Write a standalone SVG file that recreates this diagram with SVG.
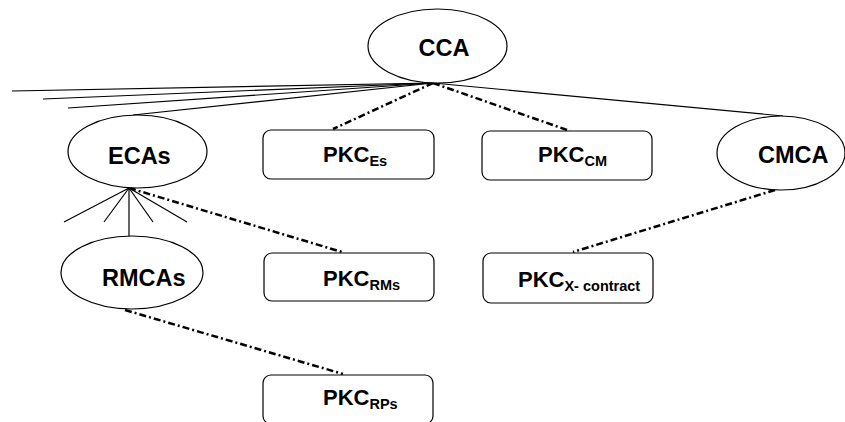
<svg xmlns="http://www.w3.org/2000/svg" width="845" height="422" viewBox="0 0 845 422">
<style>
.n{fill:#fff;stroke:#000;stroke-width:1.2}
.t{font-family:"Liberation Sans",Arial,sans-serif;font-weight:bold;font-size:23.5px;fill:#000}
.p{font-family:"Liberation Sans",Arial,sans-serif;font-weight:bold;font-size:22px;fill:#000}
.s{font-size:14.5px}
.solid{stroke:#000;stroke-width:1.2;fill:none}
.dd{stroke:#000;stroke-width:2.5;fill:none;stroke-dasharray:7 3 2 3}
</style>
<rect width="845" height="422" fill="#fff"/>
<g id="connectors">
<line class="solid" x1="433" y1="83" x2="12" y2="91"/>
<line class="solid" x1="433" y1="83" x2="43" y2="99"/>
<line class="solid" x1="433" y1="83" x2="68" y2="108"/>
<line class="solid" x1="433" y1="83" x2="133" y2="115"/>
<line class="solid" x1="433" y1="83" x2="783" y2="116"/>
<line class="dd" x1="433" y1="83" x2="333" y2="129"/>
<line class="dd" x1="433" y1="83" x2="570" y2="131"/>
<line class="solid" x1="129" y1="188" x2="64" y2="222"/>
<line class="solid" x1="129" y1="188" x2="104" y2="222"/>
<line class="solid" x1="129" y1="188" x2="153" y2="222"/>
<line class="solid" x1="129" y1="188" x2="187" y2="222"/>
<line class="solid" x1="129" y1="188" x2="129" y2="236"/>
<line class="dd" x1="129" y1="188" x2="342" y2="252"/>
<line class="dd" x1="125" y1="310" x2="343" y2="374"/>
<line class="dd" x1="775" y1="190" x2="573" y2="252"/>
</g>
<g id="CCA">
<ellipse class="n" cx="437.5" cy="46" rx="69.5" ry="37"/>
<text class="t" x="444" y="56" text-anchor="middle">CCA</text>
</g>
<g id="ECAs">
<ellipse class="n" cx="137.5" cy="151.5" rx="69.5" ry="36.5"/>
<text class="t" x="108" y="164">ECAs</text>
</g>
<g id="CMCA">
<ellipse class="n" cx="781" cy="153" rx="64" ry="37"/>
<text class="t" x="758" y="163">CMCA</text>
</g>
<g id="RMCAs">
<ellipse class="n" cx="132" cy="272.5" rx="71" ry="36.5"/>
<text class="t" x="102" y="286">RMCAs</text>
</g>
<g id="PKC_Es">
<rect class="n" x="263" y="130" width="171" height="49" rx="8"/>
<text class="p" x="323" y="162">PKC<tspan class="s" dy="4">Es</tspan></text>
</g>
<g id="PKC_CM">
<rect class="n" x="482" y="131" width="170" height="49" rx="8"/>
<text class="p" x="538" y="162">PKC<tspan class="s" dy="4">CM</tspan></text>
</g>
<g id="PKC_RMs">
<rect class="n" x="264" y="253" width="170" height="48" rx="8"/>
<text class="p" x="323" y="286">PKC<tspan class="s" dy="4">RMs</tspan></text>
</g>
<g id="PKC_X">
<rect class="n" x="483" y="253" width="170" height="50" rx="8"/>
<text class="p" x="518" y="287">PKC<tspan class="s" dy="4">X- contract</tspan></text>
</g>
<g id="PKC_RPs">
<rect class="n" x="263" y="375" width="170" height="49" rx="8"/>
<text class="p" x="323" y="405">PKC<tspan class="s" dy="4">RPs</tspan></text>
</g>
</svg>
